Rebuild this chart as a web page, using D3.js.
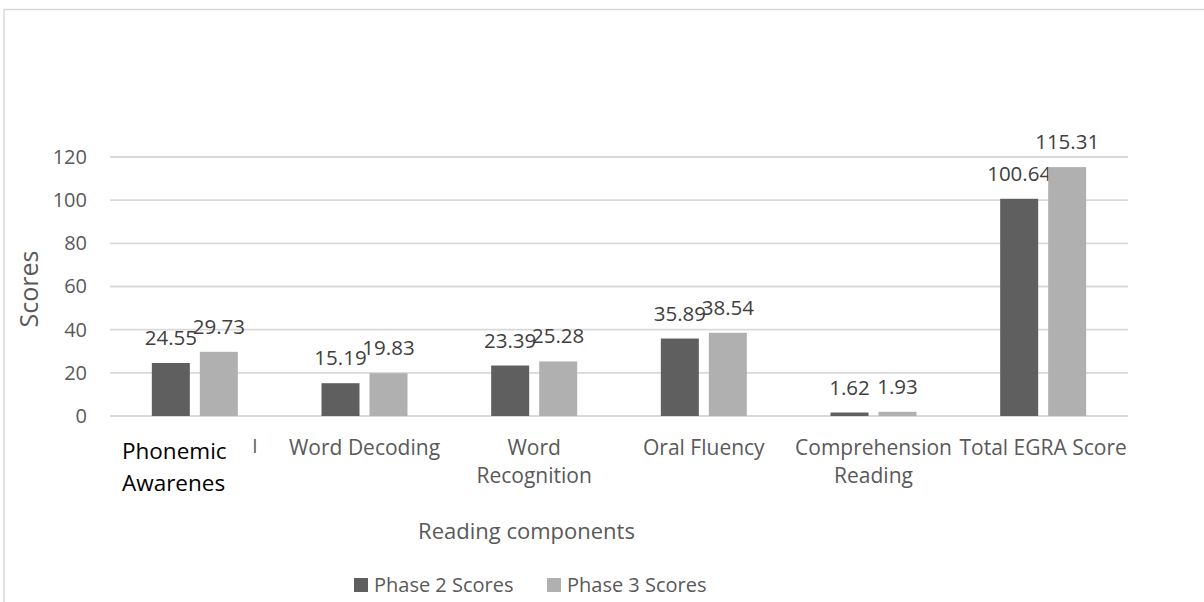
<!DOCTYPE html>
<html>
<head>
<meta charset="utf-8">
<script src="https://cdn.jsdelivr.net/npm/d3@7/dist/d3.min.js"></script>
<style>
  html, body { margin: 0; padding: 0; background: #fff; }
  svg { display: block; }
  text { font-family: "Open Sans", "Noto Sans", sans-serif; }
</style>
</head>
<body>
<script>
// Reading component scores by phase
const categories = ["Phonemic Awarenes", "Word Decoding", "Word Recognition", "Oral Fluency", "Comprehension Reading", "Total EGRA Score"];
const categoryLines = [["Phonemic", "Awarenes"], ["Word Decoding"], ["Word", "Recognition"], ["Oral Fluency"], ["Comprehension", "Reading"], ["Total EGRA Score"]];
const phase2 = [24.55, 15.19, 23.39, 35.89, 1.62, 100.64];
const phase3 = [29.73, 19.83, 25.28, 38.54, 1.93, 115.31];
const seriesNames = ["Phase 2 Scores", "Phase 3 Scores"];
const yTicks = [0, 20, 40, 60, 80, 100, 120];

const W = 1204, H = 602;
const colors = ["#5f5f5f", "#b0b0b0"];
const textColor = "#595959";

const svg = d3.select("body").append("svg").attr("width", W).attr("height", H);

// outer chart frame (top and left edges visible)
svg.append("path")
  .attr("d", `M4,${H} V9.5 H${W}`)
  .attr("fill", "none").attr("stroke", "#d9d9d9").attr("stroke-width", 1.5);

const plotLeft = 110, plotRight = 1128;
const x = d3.scaleBand().domain(categories).range([plotLeft, plotRight]).padding(0);
const y = d3.scaleLinear().domain([0, 120]).range([416, 157]);

// gridlines
svg.append("g").selectAll("line").data(yTicks).join("line")
  .attr("x1", plotLeft).attr("x2", plotRight)
  .attr("y1", d => y(d)).attr("y2", d => y(d))
  .attr("stroke", "#d9d9d9").attr("stroke-width", 1.8);

// y tick labels via axis generator
const yAxis = svg.append("g").attr("transform", `translate(${plotLeft},0)`)
  .call(d3.axisLeft(y).tickValues(yTicks).tickSize(0).tickPadding(23));
yAxis.select(".domain").remove();
yAxis.selectAll("text").attr("fill", textColor).style("font-size", "20px")
  .style("font-family", "'Open Sans', sans-serif");

// bars with value labels
const barW = 38, gap = 10;
const series = [phase2, phase3];
series.forEach((vals, si) => {
  const g = svg.append("g");
  const bx = (i) => x(categories[i]) + x.bandwidth() / 2 + (si === 0 ? -gap / 2 - barW : gap / 2);
  g.selectAll("rect").data(vals).join("rect")
    .attr("x", (d, i) => bx(i))
    .attr("y", d => y(d))
    .attr("width", barW)
    .attr("height", d => y(0) - y(d))
    .attr("fill", colors[si]);
  g.selectAll("text").data(vals).join("text")
    .attr("x", (d, i) => bx(i) + barW / 2)
    .attr("y", d => y(d) - 18)
    .attr("text-anchor", "middle")
    .attr("fill", "#404040")
    .style("font-size", "20.5px")
    .text(d => d.toFixed(2));
});

// category labels
const catG = svg.append("g");
categoryLines.forEach((lines, i) => {
  const cx = x(categories[i]) + x.bandwidth() / 2;
  if (i === 0) {
    const t = catG.append("text").attr("fill", "#000").style("font-size", "22.5px");
    lines.forEach((ln, k) => t.append("tspan").attr("x", 122).attr("y", 459 + k * 32).text(ln));
    catG.append("text").attr("x", 255).attr("y", 453).attr("text-anchor", "middle")
      .attr("fill", textColor).style("font-size", "19px").text("l");
  } else {
    const t = catG.append("text").attr("text-anchor", "middle").attr("fill", textColor).style("font-size", "21px");
    lines.forEach((ln, k) => t.append("tspan").attr("x", cx).attr("y", 455 + k * 28).text(ln));
  }
});

// axis titles
svg.append("text").attr("x", 526.5).attr("y", 539)
  .attr("text-anchor", "middle").attr("fill", textColor).style("font-size", "22px")
  .text("Reading components");
svg.append("text").attr("transform", "translate(38,289) rotate(-90)")
  .attr("text-anchor", "middle").attr("fill", textColor).style("font-size", "25px")
  .text("Scores");

// legend
const legendX = [354, 547];
const lg = svg.append("g");
seriesNames.forEach((name, i) => {
  lg.append("rect").attr("x", legendX[i]).attr("y", 578).attr("width", 14).attr("height", 14).attr("fill", colors[i]);
  lg.append("text").attr("x", legendX[i] + 20).attr("y", 592).attr("fill", textColor)
    .style("font-size", "20px").text(name);
});
</script>
</body>
</html>
